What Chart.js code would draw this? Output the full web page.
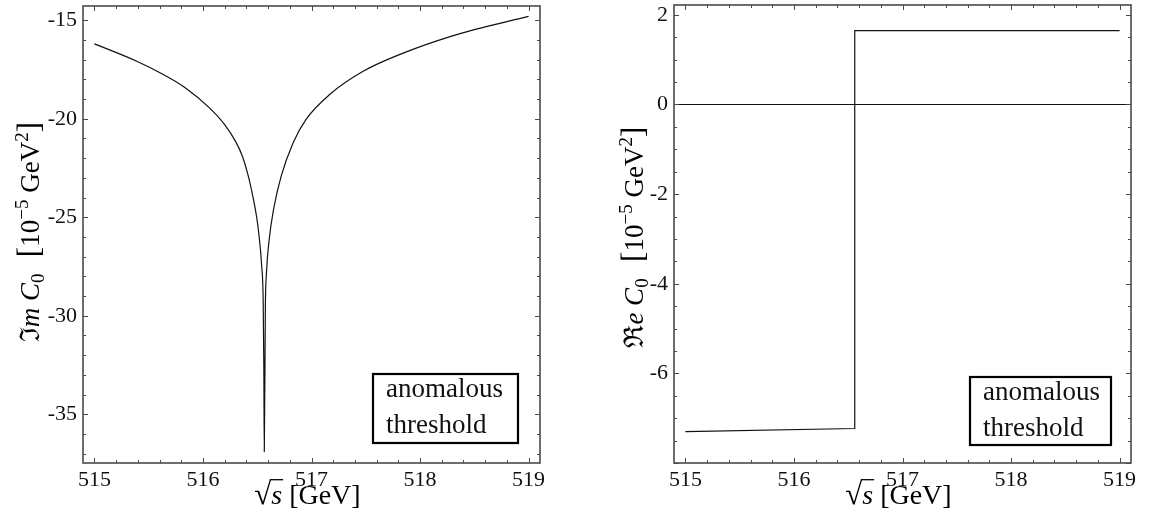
<!DOCTYPE html>
<html>
<head>
<meta charset="utf-8">
<script src="https://cdn.jsdelivr.net/npm/chart.js@4.4.1/dist/chart.umd.min.js"></script>
<style>
  html, body { margin: 0; padding: 0; background: #fff; }
  #wrap { position: relative; width: 1152px; height: 514px; }
  canvas { position: absolute; top: 0; }
  #cIm { left: 0; }
  #cRe { left: 576px; }
</style>
</head>
<body>
<div id="wrap">
  <canvas id="cIm" width="576" height="514"></canvas>
  <canvas id="cRe" width="576" height="514"></canvas>
</div>
<script>
// sqrt(s) axis, GeV
const sqrtSTicks = [515, 516, 517, 518, 519];
const sqrtSRange = [514.895, 519.105];

// Imaginary part of C0 (10^-5 GeV^2)
const imTicks = [-35, -30, -25, -20, -15];
const imRange = [-37.47, -14.28];
const imX = [515.00, 515.385, 515.63, 515.83, 516.06, 516.20, 516.30, 516.36, 516.415, 516.46,
             516.495, 516.515, 516.54, 516.555, 516.561, 516.565, 516.575, 516.585, 516.61, 516.65,
             516.72, 516.83, 516.95, 517.17, 517.48, 517.94, 518.40, 519.00];
const imY = [-16.20, -17.07, -17.74, -18.40, -19.45, -20.30, -21.15, -21.85, -22.85, -23.95,
             -25.00, -25.85, -27.40, -29.30, -32.60, -36.90, -29.53, -27.84, -26.14, -24.62,
             -22.93, -21.23, -20.03, -18.76, -17.58, -16.47, -15.63, -14.81];

// Real part of C0 (10^-5 GeV^2)
const reTicks = [-6, -4, -2, 0, 2];
const reRange = [-8.0, 2.22];
const reX = [515.00, 516.56, 516.56, 519.00];
const reY = [-7.30, -7.23, 1.65, 1.65];

const boxLines = ['anomalous', 'threshold'];

const SERIF = '"Liberation Serif", "DejaVu Serif", serif';
const FRAME = '#4a4a4a';

function segFont(s, size) {
  const sz = (s.sup || s.sub) ? size * 0.7 : size * (s.scale || 1);
  return (s.it ? 'italic ' : '') + sz.toFixed(1) + 'px ' + SERIF;
}

function drawRich(ctx, segs, cx, cy, size, rotate) {
  ctx.save();
  ctx.translate(cx, cy);
  if (rotate) ctx.rotate(-Math.PI / 2);
  let w = 0;
  for (const s of segs) { ctx.font = segFont(s, size); w += ctx.measureText(s.t).width; }
  let x = -w / 2;
  ctx.textAlign = 'left';
  ctx.textBaseline = 'alphabetic';
  ctx.fillStyle = '#000';
  ctx.strokeStyle = '#000';
  let radTop = -size * 0.8;
  for (const s of segs) {
    ctx.font = segFont(s, size);
    const dy = s.sup ? -size * 0.4 : (s.sub ? size * 0.2 : 0);
    ctx.fillText(s.t, x, dy);
    const m = ctx.measureText(s.t);
    if (s.rad) radTop = -m.actualBoundingBoxAscent + 0.7;
    if (s.over) {
      ctx.beginPath();
      ctx.lineWidth = 1.3;
      ctx.moveTo(x - 1.5, radTop);
      ctx.lineTo(x + m.width + 1, radTop);
      ctx.stroke();
    }
    x += m.width;
  }
  ctx.restore();
}

function frameTicks(chart, xMinor, xMajor, yMinor, yMajor) {
  const { ctx, chartArea: a, scales: { x, y } } = chart;
  ctx.save();
  ctx.strokeStyle = FRAME;
  ctx.lineWidth = 1;
  ctx.beginPath();
  for (let i = Math.ceil(x.min / xMinor - 1e-9); i * xMinor <= x.max + 1e-9; i++) {
    const v = i * xMinor;
    const major = Math.abs(v / xMajor - Math.round(v / xMajor)) < 1e-6;
    const len = major ? 5 : 3;
    const px = Math.round(x.getPixelForValue(v)) + 0.5;
    ctx.moveTo(px, a.bottom); ctx.lineTo(px, a.bottom - len);
    ctx.moveTo(px, a.top); ctx.lineTo(px, a.top + len);
  }
  for (let i = Math.ceil(y.min / yMinor - 1e-9); i * yMinor <= y.max + 1e-9; i++) {
    const v = i * yMinor;
    const major = Math.abs(v / yMajor - Math.round(v / yMajor)) < 1e-6;
    const len = major ? 5 : 3;
    const py = Math.round(y.getPixelForValue(v)) + 0.5;
    ctx.moveTo(a.left, py); ctx.lineTo(a.left + len, py);
    ctx.moveTo(a.right, py); ctx.lineTo(a.right - len, py);
  }
  ctx.stroke();
  ctx.lineWidth = 1.6;
  ctx.strokeRect(a.left, a.top, a.right - a.left, a.bottom - a.top);
  ctx.restore();
}

function drawBox(chart, b) {
  const { ctx, chartArea: a } = chart;
  const left = a.right - b.right - b.w;
  const top = a.bottom - b.bottom - b.h;
  ctx.save();
  ctx.fillStyle = '#fff';
  ctx.fillRect(left, top, b.w, b.h);
  ctx.strokeStyle = '#000';
  ctx.lineWidth = 2.2;
  ctx.strokeRect(left, top, b.w, b.h);
  ctx.fillStyle = '#111';
  ctx.font = '27px ' + SERIF;
  ctx.textAlign = 'left';
  ctx.textBaseline = 'alphabetic';
  ctx.fillText(boxLines[0], left + 13, top + 23);
  ctx.fillText(boxLines[1], left + 13, top + 59);
  ctx.restore();
}

function makeChart(id, cfg) {
  const points = (xs, ys) => xs.map((v, i) => ({ x: v, y: ys[i] }));
  const datasets = cfg.series.map(s => ({
    data: points(s.x, s.y),
    showLine: true,
    borderColor: '#111',
    borderWidth: s.width || 1.2,
    pointRadius: 0,
    tension: s.smooth ? 0.4 : 0,
    cubicInterpolationMode: s.smooth ? 'monotone' : 'default',
    fill: false
  }));
  const noPad = (scale) => {
    scale.paddingTop = 0; scale.paddingBottom = 0;
    scale.paddingLeft = 0; scale.paddingRight = 0;
  };
  return new Chart(document.getElementById(id), {
    type: 'scatter',
    data: { datasets },
    options: {
      responsive: false,
      animation: false,
      events: [],
      layout: { padding: cfg.padding },
      plugins: { legend: { display: false }, tooltip: { enabled: false } },
      scales: {
        x: {
          type: 'linear',
          min: sqrtSRange[0], max: sqrtSRange[1],
          grid: { display: false, drawTicks: false },
          border: { display: false },
          afterBuildTicks: (sc) => { sc.ticks = sqrtSTicks.map(v => ({ value: v })); },
          afterFit: (sc) => { sc.height = cfg.xHeight; noPad(sc); },
          ticks: {
            autoSkip: false, maxRotation: 0, padding: 4, color: '#111',
            font: { family: SERIF, size: 22 },
            callback: (v) => String(v)
          }
        },
        y: {
          type: 'linear',
          min: cfg.yRange[0], max: cfg.yRange[1],
          grid: { display: false, drawTicks: false },
          border: { display: false },
          afterBuildTicks: (sc) => { sc.ticks = cfg.yTicks.map(v => ({ value: v })); },
          afterFit: (sc) => { sc.width = cfg.yWidth; noPad(sc); },
          ticks: {
            autoSkip: false, padding: 6, color: '#111',
            font: { family: SERIF, size: 22 },
            callback: (v) => String(v)
          }
        }
      }
    },
    plugins: [{
      id: 'decor',
      afterDatasetsDraw(chart) {
        frameTicks(chart, 0.2, 1, cfg.yMinor, cfg.yMajor);
        drawBox(chart, cfg.box);
        const a = chart.chartArea;
        drawRich(chart.ctx, cfg.yTitle, cfg.yTitlePos[0], cfg.yTitlePos[1], 27, true);
        drawRich(chart.ctx, [
          { t: '√', rad: true, scale: 1.1 },
          { t: 's', it: true, over: true },
          { t: ' [GeV]' }
        ], (a.left + a.right) / 2 - 4, 504, 28, false);
      }
    }]
  });
}

makeChart('cIm', {
  padding: { left: 0, top: 6, right: 36, bottom: 0 },
  yWidth: 83, xHeight: 51,
  yRange: imRange, yTicks: imTicks, yMinor: 1, yMajor: 5,
  series: [{ x: imX, y: imY, smooth: true }],
  box: { right: 22, bottom: 20, w: 145, h: 69 },
  yTitlePos: [39, 232],
  yTitle: [
    { t: 'ℑ' }, { t: 'm', it: true }, { t: ' ' }, { t: 'C', it: true }, { t: '0', sub: true },
    { t: '  [', scale: 1.2 }, { t: '10' }, { t: '−5', sup: true }, { t: ' GeV' }, { t: '2', sup: true },
    { t: ']', scale: 1.2 }
  ]
});

makeChart('cRe', {
  padding: { left: 0, top: 5, right: 21, bottom: 0 },
  yWidth: 98, xHeight: 51,
  yRange: reRange, yTicks: reTicks, yMinor: 0.5, yMajor: 2,
  series: [
    { x: sqrtSRange, y: [0, 0] },
    { x: reX, y: reY }
  ],
  box: { right: 20, bottom: 18, w: 141, h: 68 },
  yTitlePos: [67, 237],
  yTitle: [
    { t: 'ℜ' }, { t: 'e', it: true }, { t: ' ' }, { t: 'C', it: true }, { t: '0', sub: true },
    { t: '  [', scale: 1.2 }, { t: '10' }, { t: '−5', sup: true }, { t: ' GeV' }, { t: '2', sup: true },
    { t: ']', scale: 1.2 }
  ]
});
</script>
</body>
</html>
